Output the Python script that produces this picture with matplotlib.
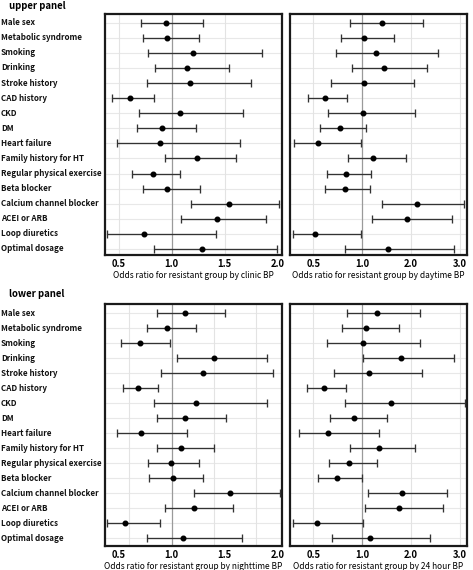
import numpy as np
import matplotlib
matplotlib.use("Agg")
import matplotlib.pyplot as plt
from matplotlib.transforms import blended_transform_factory

plt.rcParams['font.family'] = ['Noto Sans CJK KR', 'DejaVu Sans']

categories = ["Male sex", "Metabolic syndrome", "Smoking", "Drinking", "Stroke history",
              "CAD history", "CKD", "DM", "Heart failure", "Family history for HT",
              "Regular physical exercise", "Beta blocker", "Calcium channel blocker",
              "ACEI or ARB", "Loop diuretics", "Optimal dosage"]

# clinic BP
clinic_or = [0.95, 0.96, 1.20, 1.14, 1.17, 0.61, 1.08, 0.91, 0.89, 1.24, 0.82, 0.96, 1.54, 1.43, 0.74, 1.29]
clinic_lo = [0.71, 0.73, 0.78, 0.84, 0.77, 0.44, 0.69, 0.67, 0.48, 0.94, 0.63, 0.73, 1.18, 1.09, 0.39, 0.83]
clinic_hi = [1.30, 1.26, 1.85, 1.54, 1.75, 0.83, 1.67, 1.23, 1.64, 1.61, 1.08, 1.27, 2.01, 1.89, 1.42, 1.99]

# daytime BP
day_or = [1.40, 1.03, 1.28, 1.44, 1.04, 0.62, 1.01, 0.77, 0.55, 1.22, 0.83, 0.82, 2.12, 1.91, 0.52, 1.53]
day_lo = [0.88, 0.78, 0.73, 0.90, 0.68, 0.45, 0.65, 0.57, 0.30, 0.85, 0.64, 0.62, 1.40, 1.21, 0.29, 0.82]
day_hi = [2.25, 1.66, 2.54, 2.33, 2.05, 0.84, 2.09, 1.08, 0.99, 1.90, 1.19, 1.17, 3.09, 2.84, 0.99, 2.88]

# nighttime BP
night_or = [1.13, 0.96, 0.70, 1.40, 1.30, 0.68, 1.23, 1.13, 0.71, 1.09, 0.99, 1.01, 1.55, 1.21, 0.56, 1.11]
night_lo = [0.86, 0.77, 0.52, 1.05, 0.90, 0.54, 0.83, 0.86, 0.48, 0.86, 0.78, 0.79, 1.21, 0.94, 0.39, 0.77]
night_hi = [1.50, 1.23, 0.98, 1.90, 1.96, 0.87, 1.90, 1.51, 1.14, 1.40, 1.26, 1.30, 2.02, 1.58, 0.89, 1.66]

# 24 hour BP
h24_or = [1.30, 1.08, 1.02, 1.79, 1.13, 0.61, 1.58, 0.92, 0.65, 1.34, 0.87, 0.74, 1.81, 1.75, 0.54, 1.17]
h24_lo = [0.84, 0.79, 0.64, 1.02, 0.71, 0.44, 0.82, 0.67, 0.35, 0.88, 0.66, 0.55, 1.12, 1.06, 0.29, 0.69]
h24_hi = [2.18, 1.76, 2.18, 2.88, 2.23, 0.83, 3.10, 1.51, 1.35, 2.09, 1.30, 1.00, 2.73, 2.66, 1.02, 2.39]

left_ticks = [0.5, 1.0, 1.5, 2.0]
right_ticks = [0.5, 1.0, 2.0, 3.0]

W, H = 473, 570
fig = plt.figure(figsize=(W / 100, H / 100), dpi=100)


def fwd(v):
    v = np.asarray(v, dtype=float)
    return np.where(v < 1, 2 * (v - 1), v - 1)


def inv(u):
    u = np.asarray(u, dtype=float)
    return np.where(u < 0, 1 + u / 2, 1 + u)


def box(x0, y0, x1, y1):
    return [x0 / W, 1 - y1 / H, (x1 - x0) / W, (y1 - y0) / H]


def draw(ax, orv, lo, hi, xlim, ticks, grid, ylim, xlabel):
    y = np.arange(len(categories))
    for yy in y:
        ax.axhline(yy, color='#e8e8e8', lw=0.8, zorder=0)
    for g in grid:
        ax.axvline(g, color='#e3e3e3', lw=0.8, zorder=0)
    ax.axvline(1.0, color='#9a9a9a', lw=0.9, zorder=0.5)
    orv = np.array(orv); lo = np.array(lo); hi = np.array(hi)
    ax.errorbar(orv, y, xerr=[orv - lo, hi - orv], fmt='o', color='black', ms=3.3,
                ecolor='#333333', elinewidth=0.95, capsize=2.6, capthick=0.95, zorder=3)
    ax.set_xlim(*xlim)
    ax.set_ylim(*ylim)
    ax.set_yticks([])
    ax.set_xticks(ticks)
    ax.set_xticklabels([f"{t:.1f}" for t in ticks], fontsize=6.8, fontweight='heavy')
    ax.tick_params(axis='x', length=0, pad=3.2)
    for s in ax.spines.values():
        s.set_linewidth(1.6)
        s.set_color('#1a1a1a')
    ax.set_xlabel(xlabel, fontsize=6.0, labelpad=1.2)


panels = [
    (box(104.7, 14.3, 281.7, 255), clinic_or, clinic_lo, clinic_hi, False,
     [0.5, 1.5], (15.40, -0.56), "Odds ratio for resistant group by clinic BP"),
    (box(289.7, 14.3, 466.7, 255), day_or, day_lo, day_hi, True,
     [0.5, 2.0, 3.0], (15.40, -0.56), "Odds ratio for resistant group by daytime BP"),
    (box(104.7, 304, 281.7, 545.7), night_or, night_lo, night_hi, False,
     [0.6, 1.4, 1.8], (15.49, -0.62), "Odds ratio for resistant group by nighttime BP"),
    (box(289.7, 304, 466.7, 545.7), h24_or, h24_lo, h24_hi, True,
     [0.5, 2.0, 3.0], (15.49, -0.62), "Odds ratio for resistant group by 24 hour BP"),
]

axes = []
for rect, o, l, h, right, grid, ylim, xl in panels:
    ax = fig.add_axes(rect)
    if right:
        ax.set_xscale('function', functions=(fwd, inv))
        draw(ax, o, l, h, (0.259, 3.137), right_ticks, grid, ylim, xl)
    else:
        draw(ax, o, l, h, (0.368, 2.038), left_ticks, grid, ylim, xl)
    axes.append(ax)

for ax in (axes[0], axes[2]):
    tr = blended_transform_factory(fig.transFigure, ax.transData)
    for i, c in enumerate(categories):
        ax.text(1 / W, i, c, transform=tr, ha='left', va='center',
                fontsize=5.8, fontweight='heavy', color='#111111')

fig.text(9 / W, 1 - 6 / H, "upper panel", fontsize=6.9, fontweight='bold', va='center', ha='left')
fig.text(9 / W, 1 - 294 / H, "lower panel", fontsize=6.9, fontweight='bold', va='center', ha='left')

fig.savefig("out.png", dpi=100)
